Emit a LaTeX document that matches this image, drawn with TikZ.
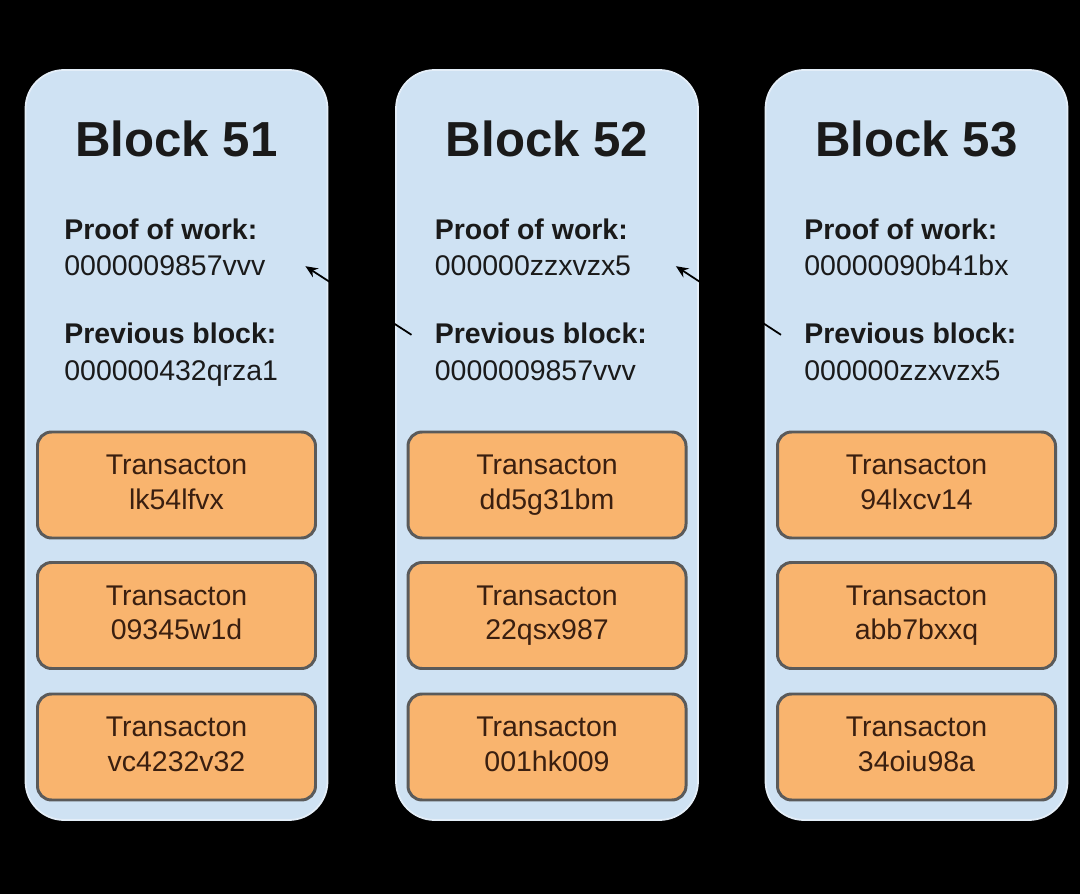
\documentclass[tikz,border=0pt]{standalone}
\usepackage{fontspec}
\setmainfont{Liberation Sans}
\definecolor{blockfill}{HTML}{CFE2F3}
\definecolor{blockedge}{HTML}{E4EEF8}
\definecolor{txfill}{HTML}{F9B46E}
\definecolor{txedge}{HTML}{5A5A5A}
\definecolor{txtext}{HTML}{3A1F10}
\definecolor{ink}{HTML}{1A1A1A}
\usetikzlibrary{calc, positioning, arrows.meta, backgrounds}
\newcommand{\txlabel}[1]{\strut Transacton\\\strut #1}

\begin{document}
\begin{tikzpicture}[
  blk/.style={draw=blockedge, fill=blockfill, line width=1pt, rounded corners=22pt,
              minimum width=6.04cm, minimum height=15cm, inner sep=0pt},
  title/.style={font=\fontsize{28}{32}\selectfont\bfseries, text=ink, anchor=base, inner sep=0pt},
  lbl/.style={font=\fontsize{16.2}{19.8}\selectfont\bfseries, text=ink, anchor=base west, inner sep=0pt},
  val/.style={font=\fontsize{16.2}{19.8}\selectfont, text=ink, anchor=base west, inner sep=0pt},
  tx/.style={draw=txedge, fill=txfill, line width=1.7pt, rounded corners=8pt,
             minimum width=5.56cm, minimum height=2.12cm, align=center,
             font=\fontsize{16.2}{19.8}\selectfont, text=txtext},
  link/.style={-{Stealth[length=7pt,width=6pt]}, line width=1pt, black},
]
\fill[black] (0,0) rectangle (21.6,-17.88);

% blocks
\node[blk] (blk51) at (3.53,-8.9) {};
\node[blk] (blk52) at (10.94,-8.9) {};
\node[blk] (blk53) at (18.33,-8.9) {};

% block 51
\node[title] (t51) at (3.53,-3.14) {Block 51};
\node[lbl] (pow51) at (1.28,-4.8) {Proof of work:};
\node[val] (val51) at (1.28,-5.52) {0000009857vvv};
\node[lbl] (prev51) at (1.28,-6.88) {Previous block:};
\node[val] (pval51) at (1.28,-7.62) {000000432qrza1};
\node[tx] (tx51a) at (3.53,-9.7) {\txlabel{lk54lfvx}};
\node[tx] (tx51b) at (3.53,-12.31) {\txlabel{09345w1d}};
\node[tx] (tx51c) at (3.53,-14.94) {\txlabel{vc4232v32}};

% block 52
\node[title] (t52) at (10.94,-3.14) {Block 52};
\node[lbl] (pow52) at (8.69,-4.8) {Proof of work:};
\node[val] (val52) at (8.69,-5.52) {000000zzxvzx5};
\node[lbl] (prev52) at (8.69,-6.88) {Previous block:};
\node[val] (pval52) at (8.69,-7.62) {0000009857vvv};
\node[tx] (tx52a) at (10.94,-9.7) {\txlabel{dd5g31bm}};
\node[tx] (tx52b) at (10.94,-12.31) {\txlabel{22qsx987}};
\node[tx] (tx52c) at (10.94,-14.94) {\txlabel{001hk009}};

% block 53
\node[title] (t53) at (18.33,-3.14) {Block 53};
\node[lbl] (pow53) at (16.08,-4.8) {Proof of work:};
\node[val] (val53) at (16.08,-5.52) {00000090b41bx};
\node[lbl] (prev53) at (16.08,-6.88) {Previous block:};
\node[val] (pval53) at (16.08,-7.62) {000000zzxvzx5};
\node[tx] (tx53a) at (18.33,-9.7) {\txlabel{94lxcv14}};
\node[tx] (tx53b) at (18.33,-12.31) {\txlabel{abb7bxxq}};
\node[tx] (tx53c) at (18.33,-14.94) {\txlabel{34oiu98a}};

% links back to the previous block
\draw[link] ([xshift=-0.46cm,yshift=-0.02cm]prev52.west) -- ([xshift=-0.46cm]blk51.east |- val51.center);
\draw[link] ([xshift=-0.46cm,yshift=-0.02cm]prev53.west) -- ([xshift=-0.46cm]blk52.east |- val52.center);
\end{tikzpicture}
\end{document}
